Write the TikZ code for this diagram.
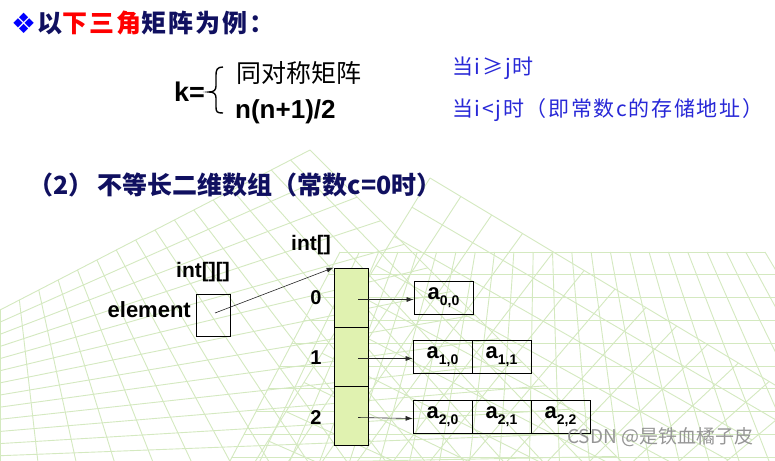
\documentclass[tikz,border=0pt]{standalone}
\usepackage{fontspec}
\setmainfont{Liberation Sans}
\newfontfamily\cjk{Noto Sans CJK SC}
\newfontfamily\cjksp{Noto Sans CJK SC}[LetterSpace=8]
\newfontfamily\dejavu{DejaVu Sans}
\usetikzlibrary{arrows.meta,calc}
\definecolor{navy}{RGB}{16,16,96}
\definecolor{bluetxt}{RGB}{40,40,215}
\definecolor{gridgreen}{RGB}{212,233,192}
\definecolor{cellgreen}{RGB}{224,242,176}
\definecolor{wmgray}{RGB}{150,150,150}
\newcommand\bggrid[6]{%
 \foreach \i in {0,...,#5}{\pgfmathsetmacro\bgt{\i/#5}\draw[bgline] ($(#1)!\bgt!(#2)$) -- ($(#3)!\bgt!(#4)$);}
 \foreach \j in {0,...,#6}{\pgfmathsetmacro\bgt{\j/#6}\draw[bgline] ($(#1)!\bgt!(#3)$) -- ($(#2)!\bgt!(#4)$);}}
\newcommand\asub[1]{a\raisebox{-0.28em}{\fontsize{14}{14}\selectfont #1}}
\tikzset{
  bgline/.style={draw=gridgreen, line width=0.9pt},
  lab/.style={inner sep=0pt, font=\bfseries\fontsize{21}{21}\selectfont},
  cellbox/.style={draw, fill=cellgreen, line width=0.8pt, minimum width=34, minimum height=59, inner sep=0pt},
  rbox/.style={draw, line width=0.8pt, minimum width=59, minimum height=33, inner sep=0pt, font=\bfseries\fontsize{22}{22}\selectfont},
  arr/.style={draw=black!85, line width=0.6pt, -{Latex[length=7pt,width=5pt]}}
}
\begin{document}
\begin{tikzpicture}[x=1pt,y=-1pt]
\useasboundingbox (0,0) rectangle (775,460);
\fill[white] (0,0) rectangle (775,460);
\begin{scope}
\clip (0,0) rectangle (775,460);
\bggrid{0,310}{310,150}{0,480}{640,480}{16}{14}
\bggrid{340,252}{765,252}{220,480}{900,480}{22}{10}
\bggrid{430,178}{800,400}{250,470}{560,600}{12}{10}
\end{scope}

% title
\node[anchor=west, inner sep=0pt, font=\dejavu\fontsize{28}{28}\selectfont, text=blue] (dia) at (11,23) {❖};
\node[anchor=west, inner sep=0pt, font=\cjksp\bfseries\fontsize{25}{25}\selectfont, text=navy] (title) at (37,23) {以\textcolor{red}{下三角}矩阵为例：};

% formula
\node[anchor=west, inner sep=0pt, font=\bfseries\fontsize{27}{27}\selectfont] (k) at (174,92) {k=};
\draw[line width=1.4pt] (223,67) .. controls (217,67) and (216,70) .. (216,75) -- (216,86) .. controls (216,90) and (214,92) .. (209,92) .. controls (214,92) and (216,94) .. (216,98) -- (216,107) .. controls (216,112) and (217,113) .. (223,113);
\node[anchor=west, inner sep=0pt, font=\cjk\fontsize{25}{25}\selectfont] (sym) at (236,73) {同对称矩阵};
\node[anchor=west, inner sep=0pt, font=\bfseries\fontsize{26}{26}\selectfont] (nn) at (235,112) {n(n+1)/2};
\node[anchor=west, inner sep=0pt, font=\cjksp\fontsize{21}{21}\selectfont, text=bluetxt] (c1) at (452,68) {当i≥j时};
\node[anchor=west, inner sep=0pt, font=\cjksp\fontsize{21}{21}\selectfont, text=bluetxt] (c2) at (452,110) {当i<j时（即常数c的存储地址）};

% section heading
\node[anchor=west, inner sep=0pt, font=\cjk\bfseries\fontsize{25}{25}\selectfont, text=navy] (sec) at (28,185) {（2）\,不等长二维数组（常数c=0时）};

% diagram
\node[lab] (int1) at (311,245) {int[]};
\node[lab] (int2) at (203,272) {int[][]};
\node[lab, anchor=east, font=\bfseries\fontsize{22}{22}\selectfont] (elem) at (191,310) {element};
\node[draw, line width=0.8pt, minimum width=34, minimum height=42, inner sep=0pt] (ebox) at (213,315) {};

\node[cellbox] (c0) at (351,297.5) {};
\node[cellbox] (cc1) at (351,356.5) {};
\node[cellbox] (cc2) at (351,415.5) {};

\node[lab, font=\bfseries\fontsize{20}{20}\selectfont] (n0) at (316,298) {0};
\node[lab, font=\bfseries\fontsize{20}{20}\selectfont] (n1) at (316,358) {1};
\node[lab, font=\bfseries\fontsize{20}{20}\selectfont] (n2) at (316,418) {2};

\node[rbox] (r00) at (443.5,297.5) {\asub{0,0}};
\node[rbox] (r10) at (442.5,356.5) {\asub{1,0}};
\node[rbox] (r11) at (501.5,356.5) {\asub{1,1}};
\node[rbox] (r20) at (442.5,416.5) {\asub{2,0}};
\node[rbox] (r21) at (501.5,416.5) {\asub{2,1}};
\node[rbox] (r22) at (560.5,416.5) {\asub{2,2}};

\draw[arr] ([xshift=2pt,yshift=2pt]ebox.center) -- (c0.north west);
\draw[arr] ([xshift=7pt,yshift=-2pt]c0.center) -- ([yshift=-2pt]r00.west);
\draw[arr] ([xshift=7pt,yshift=-2pt]cc1.center) -- ([yshift=-2pt]r10.west);
\draw[arr] ([xshift=7pt,yshift=-2pt]cc2.center) -- ([yshift=-2pt]r20.west);

% watermark
\node[anchor=west, inner sep=0pt, font=\cjk\fontsize{19}{19}\selectfont, text=wmgray] (wm) at (567,437) {CSDN @是铁血橘子皮};
\end{tikzpicture}
\end{document}
